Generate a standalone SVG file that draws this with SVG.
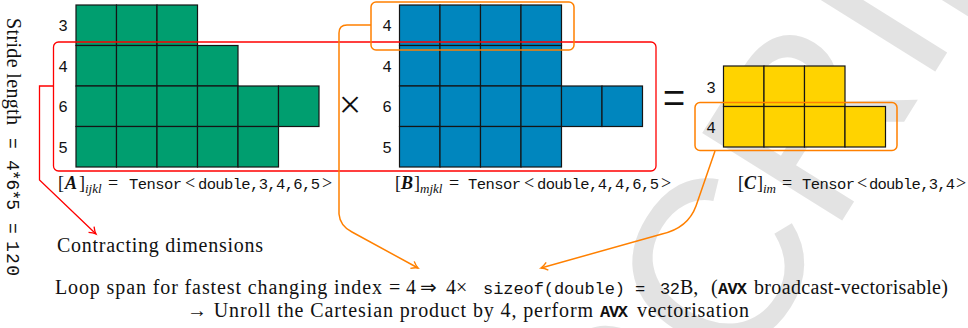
<svg xmlns="http://www.w3.org/2000/svg" width="968" height="328" viewBox="0 0 968 328">
<defs>
<style>
.serif{font-family:"Liberation Serif","DejaVu Serif",serif;fill:#111}
.tt{font-family:"Liberation Mono","DejaVu Sans Mono",monospace}
.bi{font-weight:bold;font-style:italic}
.it{font-style:italic}
.num{font-family:"Liberation Mono","DejaVu Sans Mono",monospace;font-size:16px;fill:#111;text-anchor:middle}
.g{fill:#009E6F;stroke:#151515;stroke-width:1.2}
.b{fill:#0086BE;stroke:#151515;stroke-width:1.2}
.y{fill:#FFD300;stroke:#151515;stroke-width:1.2}
.red{fill:none;stroke:#FF0000;stroke-width:1.3}
.org{fill:none;stroke:#FF8000;stroke-width:1.5}
</style>
<marker id="ar" markerWidth="12" markerHeight="12" refX="9" refY="6" orient="auto" markerUnits="userSpaceOnUse"><path d="M2.5,2 Q6,5 9,6 Q6,7 2.5,10" fill="none" stroke="#FF0000" stroke-width="1.3"/></marker>
<marker id="ao" markerWidth="12" markerHeight="12" refX="9" refY="6" orient="auto" markerUnits="userSpaceOnUse"><path d="M2.5,2 Q6,5 9,6 Q6,7 2.5,10" fill="none" stroke="#FF8000" stroke-width="1.4"/></marker>
</defs>
<rect width="968" height="328" fill="#fff"/>
<g id="watermark">
<text transform="translate(655,520) rotate(-58)" font-family="Liberation Sans, sans-serif" font-size="240" fill="#e3e3e3">SCRIPT</text>
</g>

<g id="tensorA">
<rect class="g" x="76" y="5" width="40.5" height="40.5"/><rect class="g" x="116.5" y="5" width="40.5" height="40.5"/><rect class="g" x="157" y="5" width="40.5" height="40.5"/>
<rect class="g" x="76" y="45.5" width="40.5" height="40.5"/><rect class="g" x="116.5" y="45.5" width="40.5" height="40.5"/><rect class="g" x="157" y="45.5" width="40.5" height="40.5"/><rect class="g" x="197.5" y="45.5" width="40.5" height="40.5"/>
<rect class="g" x="76" y="86" width="40.5" height="40.5"/><rect class="g" x="116.5" y="86" width="40.5" height="40.5"/><rect class="g" x="157" y="86" width="40.5" height="40.5"/><rect class="g" x="197.5" y="86" width="40.5" height="40.5"/><rect class="g" x="238" y="86" width="40.5" height="40.5"/><rect class="g" x="278.5" y="86" width="40.5" height="40.5"/>
<rect class="g" x="76" y="126.5" width="40.5" height="40.5"/><rect class="g" x="116.5" y="126.5" width="40.5" height="40.5"/><rect class="g" x="157" y="126.5" width="40.5" height="40.5"/><rect class="g" x="197.5" y="126.5" width="40.5" height="40.5"/><rect class="g" x="238" y="126.5" width="40.5" height="40.5"/>
<text class="num" x="63" y="31">3</text><text class="num" x="63" y="71.5">4</text><text class="num" x="63" y="112">6</text><text class="num" x="63" y="152.5">5</text>
<text class="serif" y="189" font-size="18"><tspan x="58">[</tspan><tspan x="65" class="bi">A</tspan><tspan x="79">]</tspan><tspan x="85" dy="4" font-size="13" class="it">ijkl</tspan><tspan x="108" dy="-4">=</tspan><tspan x="129" class="tt" font-size="15.5" textLength="53">Tensor</tspan><tspan x="185">&lt;</tspan><tspan x="198" class="tt" font-size="15.5" textLength="122">double,3,4,6,5</tspan><tspan x="322">&gt;</tspan></text>
</g>

<g id="times"><text class="serif" x="350" y="118" font-size="40" text-anchor="middle">×</text></g>

<g id="tensorB">
<rect class="b" x="399.5" y="5" width="40.5" height="40.5"/><rect class="b" x="440" y="5" width="40.5" height="40.5"/><rect class="b" x="480.5" y="5" width="40.5" height="40.5"/><rect class="b" x="521" y="5" width="40.5" height="40.5"/>
<rect class="b" x="399.5" y="45.5" width="40.5" height="40.5"/><rect class="b" x="440" y="45.5" width="40.5" height="40.5"/><rect class="b" x="480.5" y="45.5" width="40.5" height="40.5"/><rect class="b" x="521" y="45.5" width="40.5" height="40.5"/>
<rect class="b" x="399.5" y="86" width="40.5" height="40.5"/><rect class="b" x="440" y="86" width="40.5" height="40.5"/><rect class="b" x="480.5" y="86" width="40.5" height="40.5"/><rect class="b" x="521" y="86" width="40.5" height="40.5"/><rect class="b" x="561.5" y="86" width="40.5" height="40.5"/><rect class="b" x="602" y="86" width="40.5" height="40.5"/>
<rect class="b" x="399.5" y="126.5" width="40.5" height="40.5"/><rect class="b" x="440" y="126.5" width="40.5" height="40.5"/><rect class="b" x="480.5" y="126.5" width="40.5" height="40.5"/><rect class="b" x="521" y="126.5" width="40.5" height="40.5"/>
<text class="num" x="387" y="31">4</text><text class="num" x="387" y="71.5">4</text><text class="num" x="387" y="112">6</text><text class="num" x="387" y="152.5">5</text>
<text class="serif" y="189" font-size="18"><tspan x="395">[</tspan><tspan x="401" class="bi">B</tspan><tspan x="414">]</tspan><tspan x="420" dy="4" font-size="13" class="it">mjkl</tspan><tspan x="449" dy="-4">=</tspan><tspan x="468" class="tt" font-size="15.5" textLength="53">Tensor</tspan><tspan x="524">&lt;</tspan><tspan x="537" class="tt" font-size="15.5" textLength="122">double,4,4,6,5</tspan><tspan x="661">&gt;</tspan></text>
</g>

<g id="equals"><text class="serif" transform="translate(674,103) scale(1,1.4)" x="0" y="10" font-size="40" text-anchor="middle">=</text></g>

<g id="tensorC">
<rect class="y" x="723.5" y="66" width="40.5" height="40.5"/><rect class="y" x="764" y="66" width="40.5" height="40.5"/><rect class="y" x="804.5" y="66" width="40.5" height="40.5"/>
<rect class="y" x="723.5" y="106.5" width="40.5" height="40.5"/><rect class="y" x="764" y="106.5" width="40.5" height="40.5"/><rect class="y" x="804.5" y="106.5" width="40.5" height="40.5"/><rect class="y" x="845" y="106.5" width="40.5" height="40.5"/>
<text class="num" x="711" y="92.5">3</text><text class="num" x="711" y="133">4</text>
<text class="serif" y="189" font-size="18"><tspan x="738">[</tspan><tspan x="744" class="bi">C</tspan><tspan x="757">]</tspan><tspan x="763" dy="4" font-size="13" class="it">im</tspan><tspan x="782" dy="-4">=</tspan><tspan x="802" class="tt" font-size="15.5" textLength="53">Tensor</tspan><tspan x="857">&lt;</tspan><tspan x="869" class="tt" font-size="15.5" textLength="86">double,3,4</tspan><tspan x="956">&gt;</tspan></text>
</g>

<g id="contracting-box"><rect class="red" x="53.5" y="42" width="602.5" height="129" rx="5"/></g>
<g id="loop-box-B"><rect class="org" x="371" y="2" width="203" height="48" rx="5"/></g>
<g id="loop-box-C"><rect class="org" x="695" y="102.5" width="202" height="48" rx="5"/></g>

<g id="connectors">
<path class="red" d="M53.5,86 H39.5 V180 L96,234" marker-end="url(#ar)"/>
<path class="org" d="M371,25 H347 Q339,25 339,33 V214 Q340,226 352,232 L418,268" marker-end="url(#ao)"/>
<path class="org" d="M715,151 L696,206 Q688,228 662,234 L541,268" marker-end="url(#ao)"/>
</g>

<g id="stride">
<text class="serif" transform="translate(7,18) rotate(90)" font-size="20"><tspan x="0" textLength="107">Stride length</tspan><tspan x="120" class="tt" font-size="18">=</tspan><tspan x="142" class="tt" font-size="18" textLength="50">4*6*5</tspan><tspan x="205" class="tt" font-size="18">=</tspan><tspan x="223" class="tt" font-size="18" textLength="35">120</tspan></text>
</g>

<g id="contracting-label"><text class="serif" x="57" y="252" font-size="20" textLength="206">Contracting dimensions</text></g>

<g id="loop-text">
<text class="serif" y="294" font-size="20"><tspan x="55" textLength="327">Loop span for fastest changing index</tspan><tspan x="389">=</tspan><tspan x="406">4</tspan><tspan x="420" font-family="DejaVu Sans, sans-serif" font-size="20" textLength="20">⇒</tspan><tspan x="446">4×</tspan><tspan x="483" class="tt" font-size="17" textLength="142">sizeof(double)</tspan><tspan x="635" class="tt" font-size="17">=</tspan><tspan x="660" class="tt" font-size="17" textLength="20">32</tspan><tspan x="680">B,</tspan><tspan x="711">(</tspan><tspan x="718" class="tt" font-size="17" font-weight="bold" textLength="29">AVX</tspan><tspan x="754" textLength="194">broadcast-vectorisable)</tspan></text>
<text class="serif" y="317" font-size="20"><tspan x="187" textLength="406">→ Unroll the Cartesian product by 4, perform</tspan><tspan x="600" class="tt" font-size="17" font-weight="bold" textLength="28">AVX</tspan><tspan x="637" textLength="112">vectorisation</tspan></text>
</g>
</svg>
